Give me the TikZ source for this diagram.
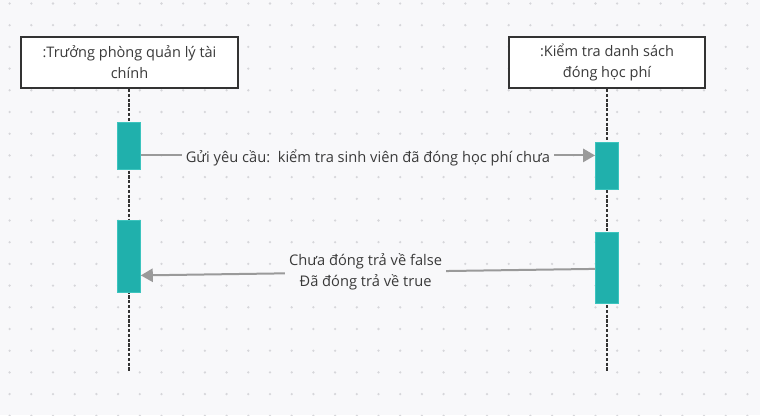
\documentclass[tikz,border=0pt]{standalone}
\usepackage{fontspec}
\setmainfont{Open Sans}
\usetikzlibrary{arrows.meta,calc}
\definecolor{bg}{HTML}{F8F8FA}
\definecolor{griddot}{HTML}{D6D6DA}
\definecolor{barfill}{HTML}{20B0AC}
\definecolor{barline}{HTML}{3CC4BE}
\definecolor{msgline}{HTML}{9A9A9A}
\definecolor{ink}{HTML}{333333}
\definecolor{txt}{HTML}{3A3A3A}
\tikzset{
  actor/.style={draw=ink, line width=1.5pt, fill=white, anchor=north west,
    minimum height=38.25pt, inner sep=0pt, align=center, text=txt,
    font=\fontsize{10.9}{15.75}\selectfont},
  activation/.style={draw=barline, line width=0.6pt, fill=barfill, anchor=north west,
    minimum width=17.25pt, inner sep=0pt},
  lifeline/.style={draw=ink, line width=1.5pt, dash pattern=on 2.4pt off 1.2pt},
  msg/.style={draw=msgline, line width=1.5pt, -{Triangle[length=9pt,width=10pt]}},
  msglabel/.style={fill=bg, inner xsep=3pt, inner ysep=1pt, text=txt, align=center,
    font=\fontsize{11}{15.75}\selectfont}
}
\begin{document}
\begin{tikzpicture}[x=0.75pt,y=-0.75pt]
  % canvas and dotted grid
  \fill[bg] (0,0) rectangle (760,415);
  \useasboundingbox (0,0) rectangle (760,415);
  \foreach \i in {0,...,34}{
    \foreach \j in {0,...,19}{
      \fill[griddot] ({9.6+21.7*\i},{3.5+21.7*\j}) circle (0.95pt);
    }
  }

  % participants
  \node[actor, minimum width=162.75pt] (boxA) at (20,36)
    {:Trưởng phòng quản lý tài\\chính};
  \node[actor, minimum width=147pt] (boxB) at (508,36)
    {:Kiểm tra danh sách\\đóng học phí};

  % lifelines
  \coordinate (endA) at (128.5,372);
  \coordinate (endB) at (606.5,372);
  \draw[lifeline] (boxA.south -| endA) -- (endA);
  \draw[lifeline] (boxB.south -| endB) -- (endB);

  % activation bars
  \node[activation, minimum height=35.25pt] (barA1) at (117,122) {};
  \node[activation, minimum height=54pt]    (barA2) at (117,220) {};
  \node[activation, minimum height=35.25pt] (barB1) at (595,142) {};
  \node[activation, minimum height=53.25pt] (barB2) at (595,231.5) {};

  % messages
  \draw[msg] ($(barA1.east)+(0,9.5)$) -- node[msglabel, yshift=-1.5pt]
    {Gửi yêu cầu:\ \ kiểm tra sinh viên đã đóng học phí chưa}
    ($(barB1.west)+(0,-10.5)$);
  \draw[msg] ($(barB2.west)+(0,1.5)$) -- node[msglabel, pos=0.505]
    {Chưa đóng trả về false\\Đã đóng trả về true}
    ($(barA2.east)+(0,19)$);
\end{tikzpicture}
\end{document}
